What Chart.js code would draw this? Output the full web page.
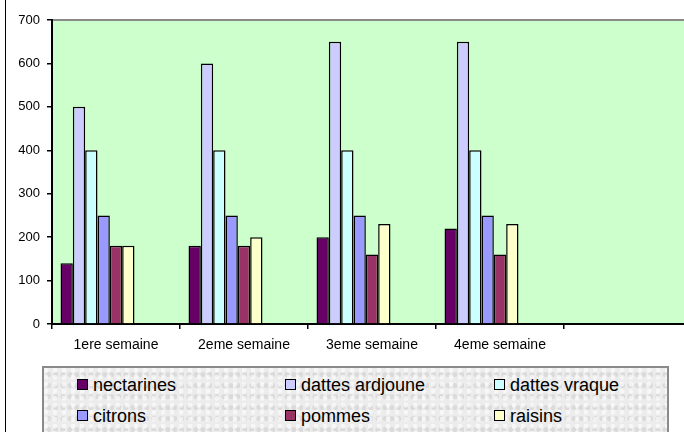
<!DOCTYPE html>
<html>
<head>
<meta charset="utf-8">
<script src="https://cdn.jsdelivr.net/npm/chart.js@4"></script>
<style>
  html, body { margin: 0; padding: 0; background: #fff; overflow: hidden; }
  body { width: 684px; height: 432px; position: relative; font-family: "Liberation Sans", Arial, sans-serif; }
  #frame { position: absolute; left: 5px; top: 0; width: 1px; height: 432px; background: #000; }
  #wrap { position: absolute; left: 0; top: 0; width: 700px; height: 360px; }
  #legend {
    position: absolute; left: 42px; top: 366px; width: 623px; height: 80px;
    border: 2px solid #8a8a8a;
    background-color: #ececec;
    background-image:
      radial-gradient(circle at 20% 30%, rgba(255,255,255,0.6) 0 2px, transparent 3px),
      radial-gradient(circle at 70% 60%, rgba(200,200,200,0.5) 0 2px, transparent 3px);
    background-size: 9px 7px, 7px 11px;
  }
  .item { position: absolute; font-size: 18px; color: #000; line-height: 20px; white-space: nowrap; }
  .item i { display: inline-block; width: 9px; height: 9px; border: 1.5px solid #000; margin-right: 5px; vertical-align: 1px; }
</style>
</head>
<body>
<div id="frame"></div>
<div id="wrap"><canvas id="chart" width="700" height="360"></canvas></div>
<div id="legend"></div>
<script>
const categories = ['1ere semaine', '2eme semaine', '3eme semaine', '4eme semaine', ''];
const seriesNames = ['nectarines', 'dattes ardjoune', 'dattes vraque', 'citrons', 'pommes', 'raisins'];
const nectarines = [140, 180, 200, 220, null];
const dattesArdjoune = [500, 600, 650, 650, null];
const dattesVraque = [400, 400, 400, 400, null];
const citrons = [250, 250, 250, 250, null];
const pommes = [180, 180, 160, 160, null];
const raisins = [180, 200, 230, 230, null];
// empty series, Excel leaves room for them on the right of each group
const spacer = [null, null, null, null, null];
const colors = ['#660066', '#ccccff', '#ccffff', '#9999ff', '#993366', '#ffffcc'];
const yTicks = [0, 100, 200, 300, 400, 500, 600, 700];

const values = [nectarines, dattesArdjoune, dattesVraque, citrons, pommes, raisins];
const datasets = values.map((v, i) => ({
  label: seriesNames[i],
  data: v,
  backgroundColor: colors[i],
  borderColor: '#000',
  borderWidth: 1.5,
}));
for (let k = 0; k < 3; k++) datasets.push({ label: '', data: spacer, backgroundColor: 'transparent' });

const plotBg = {
  id: 'plotBg',
  beforeDraw(chart) {
    const { ctx, chartArea: a } = chart;
    ctx.save();
    ctx.fillStyle = '#ccffcc';
    ctx.fillRect(a.left, a.top, a.right - a.left, a.bottom - a.top);
    ctx.strokeStyle = '#8a8a8a';
    ctx.lineWidth = 2;
    ctx.beginPath();
    ctx.moveTo(a.left, a.top);
    ctx.lineTo(a.right, a.top);
    ctx.stroke();
    ctx.restore();
  }
};

new Chart(document.getElementById('chart'), {
  type: 'bar',
  data: { labels: categories, datasets },
  options: {
    responsive: false,
    animation: false,
    layout: { padding: { top: 20, right: 8, left: 0, bottom: 0 } },
    datasets: { bar: { barPercentage: 1, categoryPercentage: 0.867 } },
    plugins: { legend: { display: false }, tooltip: { enabled: false } },
    scales: {
      x: {
        offset: true,
        grid: { display: true, offset: true, drawOnChartArea: false, drawTicks: true, tickLength: 5, color: '#000', lineWidth: 1.5 },
        border: { color: '#000', width: 2 },
        ticks: { color: '#000', font: { family: 'Liberation Sans', size: 14 }, padding: 8, maxRotation: 0 },
        afterFit(s) { s.height = 36; }
      },
      y: {
        min: 0, max: 700,
        afterBuildTicks(s) { s.ticks = yTicks.map(v => ({ value: v })); },
        grid: { display: true, drawOnChartArea: false, drawTicks: true, tickLength: 5, color: '#000', lineWidth: 1.5 },
        border: { color: '#000', width: 2 },
        ticks: { color: '#000', font: { family: 'Liberation Sans', size: 13 }, padding: 7 },
        afterFit(s) { s.width = 52; }
      }
    }
  },
  plugins: [plotBg]
});

// legend built from the same series
const legend = document.getElementById('legend');
const colX = [33, 241, 450];
const rowY = [7, 38];
seriesNames.forEach((name, i) => {
  const d = document.createElement('div');
  d.className = 'item';
  d.style.left = colX[i % 3] + 'px';
  d.style.top = rowY[Math.floor(i / 3)] + 'px';
  d.innerHTML = '<i style="background:' + colors[i] + '"></i>' + name;
  legend.appendChild(d);
});
</script>
</body>
</html>
